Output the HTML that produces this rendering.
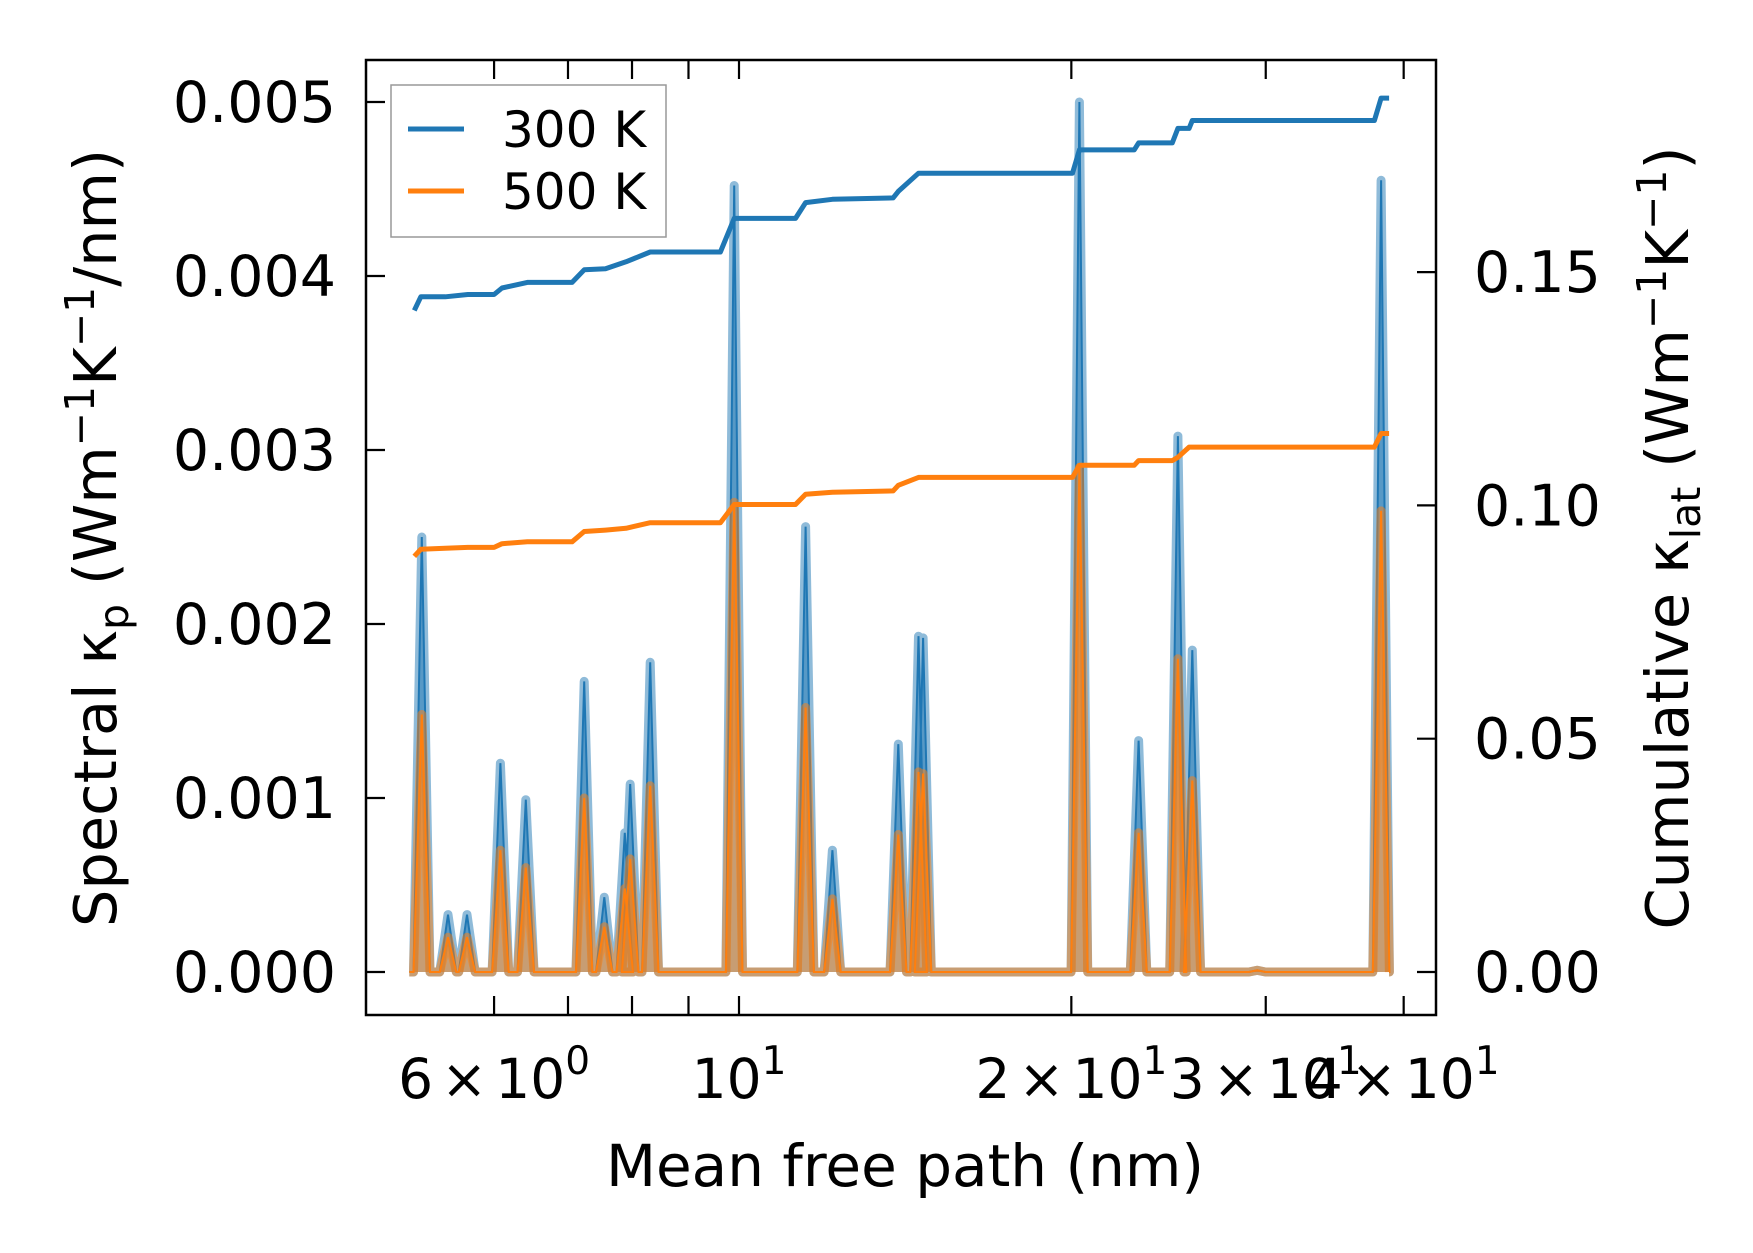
<!DOCTYPE html>
<html><head><meta charset="utf-8">
<style>
html,body{margin:0;padding:0;background:#fff;}
svg{display:block;font-family:"DejaVu Sans","Liberation Sans",sans-serif;}
</style></head>
<body>
<svg id="chart" width="1753" height="1253" viewBox="0 0 1753 1253" xmlns="http://www.w3.org/2000/svg">
<rect x="0" y="0" width="1753" height="1253" fill="#fff"/>
<g id="plot"></g>
<g id="axes"></g>
</svg>
<script>
// ---- data ----
const peakX   = [5.16,5.45,5.67,6.08,6.41,7.24,7.55,7.88,7.97,8.31,9.90,11.49,12.15,13.94,14.54,14.68,20.34,23.01,24.98,25.74,29.47,38.16];
const peak300 = [0.00250,0.00033,0.00033,0.00120,0.00099,0.00167,0.00043,0.00080,0.00108,0.00178,0.00452,0.00256,0.00070,0.00131,0.00193,0.00192,0.00500,0.00133,0.00308,0.00185,0.00001,0.00455];
const peak500 = [0.00148,0.00020,0.00020,0.00070,0.00060,0.00100,0.00026,0.00048,0.00065,0.00107,0.00270,0.00152,0.00042,0.00079,0.00115,0.00114,0.00290,0.00080,0.00180,0.00110,0.00001,0.00265];
const cumX    = [5.08,5.15,5.42,5.68,6.00,6.10,6.43,7.06,7.24,7.57,7.90,8.31,9.62,9.90,11.25,11.49,12.15,13.79,13.94,14.54,20.05,20.34,22.80,23.01,24.69,24.98,25.57,25.74,37.63,38.16,38.80];
const cum300  = [0.1418,0.1447,0.1447,0.1452,0.1452,0.1466,0.1478,0.1478,0.1505,0.1507,0.1522,0.1543,0.1543,0.1615,0.1615,0.1649,0.1656,0.1659,0.1673,0.1712,0.1712,0.1762,0.1762,0.1777,0.1777,0.1808,0.1808,0.1825,0.1825,0.1873,0.1873];
const cum500  = [0.0891,0.0906,0.0908,0.0910,0.0910,0.0918,0.0922,0.0922,0.0944,0.0947,0.0951,0.0963,0.0963,0.1002,0.1002,0.1024,0.1028,0.1031,0.1043,0.1060,0.1060,0.1086,0.1086,0.1096,0.1096,0.1103,0.1125,0.1125,0.1125,0.1154,0.1154];
const xMajor  = [6,10,20,30,40];
const xMajorLabels = [["6","×","10","0"],["","","10","1"],["2","×","10","1"],["3","×","10","1"],["4","×","10","1"]];
const xMinor  = [7,8,9];
const yLeftTicks = [0,0.001,0.002,0.003,0.004,0.005];
const yLeftLabels = ["0.000","0.001","0.002","0.003","0.004","0.005"];
const yRightTicks = [0,0.05,0.10,0.15];
const yRightLabels = ["0.00","0.05","0.10","0.15"];

// ---- axes geometry ----
const L=366,R=1436,T=60,B=1015;
const X = v => 739 + 1104*Math.log10(v/10);
const YL = v => 972 - v*174000;
const YR = v => 972 - v/0.05*233.3;
const NS="http://www.w3.org/2000/svg";
const plot=document.getElementById('plot'), axes=document.getElementById('axes');
function mk(tag,attrs,parent){const e=document.createElementNS(NS,tag);for(const k in attrs)e.setAttribute(k,attrs[k]);parent.appendChild(e);return e;}

function spectral(vals,color,name){
  const hw=0.0075;
  let pts=[[X(peakX[0]/Math.pow(10,hw*1.5)),YL(0)]];
  for(let i=0;i<peakX.length;i++){
    pts.push([X(peakX[i]/Math.pow(10,hw)),YL(0)]);
    pts.push([X(peakX[i]),YL(vals[i])]);
    pts.push([X(peakX[i]*Math.pow(10,hw)),YL(0)]);
  }
  pts.push([X(38.8),YL(0)]);
  const d='M'+pts.map(p=>p[0].toFixed(1)+','+p[1].toFixed(1)).join('L');
  const f=mk('path',{d:d+'Z',fill:color,'fill-opacity':0.5,stroke:'none'},plot);
  
  
  const t=mk('path',{d:d,fill:'none',stroke:color,'stroke-opacity':0.5,'stroke-width':9,'stroke-linejoin':'round'},plot);
  
  
  const l=mk('path',{d:d,fill:'none',stroke:color,'stroke-width':2},plot);
  
  
}
spectral(peak300,'#1f77b4','spectral-300k');
spectral(peak500,'#ff7f0e','spectral-500k');

function cum(vals,color,name){
  const d='M'+cumX.map((x,i)=>X(x).toFixed(1)+','+YR(vals[i]).toFixed(1)).join('L');
  const l=mk('path',{d:d,fill:'none',stroke:color,'stroke-width':5,'stroke-linejoin':'round'},plot);
  
  
}
cum(cum300,'#1f77b4','cumulative-300k');
cum(cum500,'#ff7f0e','cumulative-500k');

const fr=mk('rect',{x:L,y:T,width:R-L,height:B-T,fill:'none',stroke:'#000','stroke-width':2.5},axes);



xMajor.concat(xMinor).forEach(v=>{
  const x=X(v);
  const t1=mk('line',{x1:x,x2:x,y1:B,y2:B-19,stroke:'#000','stroke-width':2.2},axes);
  
  
  const t2=mk('line',{x1:x,x2:x,y1:T,y2:T+19,stroke:'#000','stroke-width':2.2},axes);
  
  
});
xMajor.forEach((v,i)=>{
  const lb=xMajorLabels[i];
  const tx=mk('text',{x:X(v),y:1098,'font-size':55,'text-anchor':'middle',fill:'#000'},axes);
  
  
  let s='';
  if(lb[0]) s+='<tspan>'+lb[0]+'</tspan><tspan dx="8">'+lb[1]+'</tspan><tspan dx="8">'+lb[2]+'</tspan>';
  else s+='<tspan>'+lb[2]+'</tspan>';
  s+='<tspan dy="-24" font-size="39">'+lb[3]+'</tspan>';
  tx.innerHTML=s;
});
yLeftTicks.forEach((v,i)=>{
  const y=YL(v);
  const t=mk('line',{x1:L,x2:L+19,y1:y,y2:y,stroke:'#000','stroke-width':2.2},axes);
  
  
  const tx=mk('text',{x:336,y:y+20,'font-size':57,'text-anchor':'end',fill:'#000'},axes);
  tx.textContent=yLeftLabels[i];
  
  
});
yRightTicks.forEach((v,i)=>{
  const y=YR(v);
  const t=mk('line',{x1:R,x2:R-19,y1:y,y2:y,stroke:'#000','stroke-width':2.2},axes);
  
  
  const tx=mk('text',{x:1474,y:y+20,'font-size':57,'text-anchor':'start',fill:'#000'},axes);
  tx.textContent=yRightLabels[i];
  
  
});
</script>
<svg style="position:absolute;left:0;top:0" width="1753" height="1253" xmlns="http://www.w3.org/2000/svg" font-family="DejaVu Sans, Liberation Sans, sans-serif">
<text x="905" y="1186" font-size="58" text-anchor="middle">Mean free path (nm)</text>
<text transform="translate(116,538) rotate(-90)" font-size="59" text-anchor="middle">Spectral κ<tspan font-size="41" dy="12">p</tspan><tspan dy="-12"> (Wm</tspan><tspan font-size="41" dy="-22">−1</tspan><tspan dy="22">K</tspan><tspan font-size="41" dy="-22">−1</tspan><tspan dy="22">/nm)</tspan></text>
<text transform="translate(1688,538) rotate(-90)" font-size="59" text-anchor="middle">Cumulative κ<tspan font-size="41" dy="12">lat</tspan><tspan dy="-12"> (Wm</tspan><tspan font-size="41" dy="-22">−1</tspan><tspan dy="22">K</tspan><tspan font-size="41" dy="-22">−1</tspan><tspan dy="22">)</tspan></text>
<g>
<rect x="391" y="85" width="275" height="152" fill="#fff" fill-opacity="0.8" stroke="#999" stroke-width="1.5"/>
<line x1="408" x2="464" y1="129" y2="129" stroke="#1f77b4" stroke-width="5"/>
<text x="502" y="147" font-size="50">300 K</text>
<line x1="408" x2="464" y1="191" y2="191" stroke="#ff7f0e" stroke-width="5"/>
<text x="502" y="209" font-size="50">500 K</text>
</g>
</svg>
</body></html>
